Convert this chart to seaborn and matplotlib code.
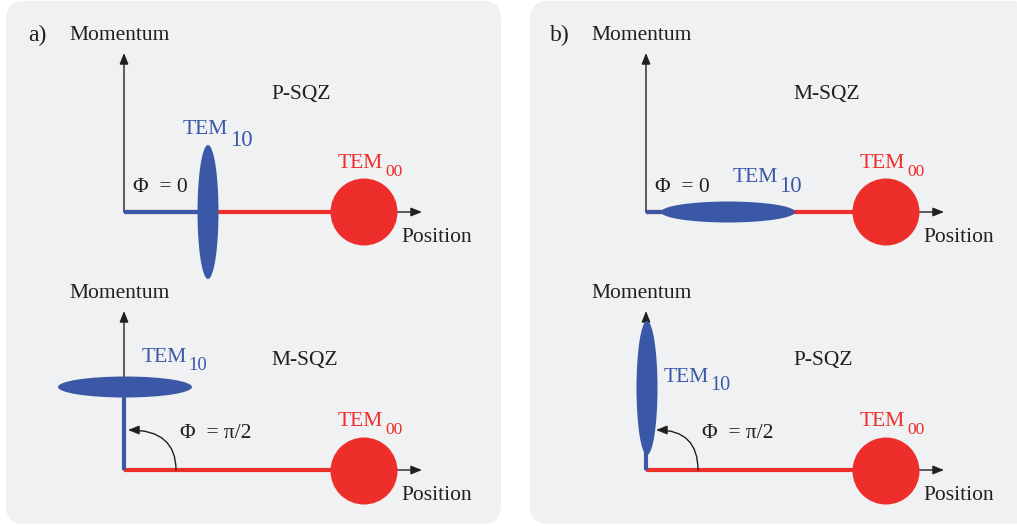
import numpy as np
import pandas as pd
import matplotlib
matplotlib.use("Agg")
import matplotlib.pyplot as plt
from matplotlib.patches import Ellipse, Circle, FancyBboxPatch
import seaborn as sns

# ---- content ----
panel_labels = ["a)", "b)"]
quadrature_labels = [["P-SQZ", "M-SQZ"], ["M-SQZ", "P-SQZ"]]   # [panel][row]
phase_labels = ["\u03a6  = 0", "\u03a6  = \u03c0/2"]            # per row
axis_y_label = "Momentum"
axis_x_label = "Position"
mode_squeezed = ("TEM", "10")
mode_carrier = ("TEM", "00")
# squeezed-ellipse orientation per [panel][row]: "v" = vertical, "h" = horizontal
ellipse_orient = [["v", "h"], ["h", "v"]]

BLUE = "#3a58a6"
RED = "#ee2e2b"
INK = "#231f20"
BG = "#f0f1f3"

sns.set_theme(style="white")
plt.rcParams["font.family"] = ["Liberation Serif", "DejaVu Serif"]
plt.rcParams["mathtext.fontset"] = "stix"

fig = plt.figure(figsize=(10.17, 5.26), dpi=100)
ax = fig.add_axes([0, 0, 1, 1])
ax.set_xlim(0, 1017)
ax.set_ylim(526, 0)
ax.axis("off")

# panel backgrounds
for x0, x1 in [(6, 501), (530, 1030)]:
    ax.add_patch(FancyBboxPatch((x0, 1), x1 - x0, 523,
                                boxstyle="round,pad=0,rounding_size=18",
                                fc=BG, ec="none", zorder=0))

FS = 15.5
ox_list = [124, 646]     # origin x per panel
oy_list = [212, 470]     # origin y per row
L_AX_X = 298
L_AX_Y = 159
CIRC_DX = 240
R_CIRC = 33.5
ELL_LONG, ELL_SHORT = 134, 21


def arrow(x0, y0, x1, y1):
    ax.annotate("", xy=(x1, y1), xytext=(x0, y0),
                arrowprops=dict(arrowstyle="-|>,head_length=0.55,head_width=0.22",
                                color=INK, lw=1.0, shrinkA=0, shrinkB=0),
                zorder=2)


def seg(x, y, color, lw=3.0, z=3):
    df = pd.DataFrame({"x": x, "y": y})
    sns.lineplot(data=df, x="x", y="y", ax=ax, color=color, lw=lw,
                 sort=False, estimator=None, zorder=z, solid_capstyle="butt")


for p in range(2):
    ox = ox_list[p]
    ax.text(ox - 96, 35, panel_labels[p], fontsize=17, color=INK,
            ha="left", va="center")
    for r in range(2):
        oy = oy_list[r]
        # axes
        arrow(ox, oy, ox, oy - L_AX_Y)
        arrow(ox, oy, ox + L_AX_X, oy)
        ax.text(ox - 55, oy - 177, axis_y_label, fontsize=FS, color=INK,
                ha="left", va="center")
        ax.text(ox + 277, oy + 25, axis_x_label, fontsize=FS, color=INK,
                ha="left", va="center")
        # carrier
        cx = ox + CIRC_DX
        seg([ox, cx], [oy, oy], RED)
        ax.add_patch(Circle((cx, oy + (1 if r else 0)), R_CIRC, fc=RED, ec="none", zorder=5))
        ax.text(cx - 26, oy - 49, mode_carrier[0], fontsize=FS, color=RED,
                ha="left", va="center")
        ax.text(cx + 21, oy - 40, mode_carrier[1], fontsize=FS - 3, color=RED,
                ha="left", va="center")
        # squeezed mode
        orient = ellipse_orient[p][r]
        if r == 0:
            ex = ox + (84 if orient == "v" else 82)
            ey = oy
            if orient == "v":
                seg([ox, ex], [oy, oy], BLUE, z=4)
                ax.add_patch(Ellipse((ex, ey), ELL_SHORT, ELL_LONG, fc=BLUE, ec="none", zorder=6))
                ax.text(ox + 59, oy - 82, mode_squeezed[0], fontsize=FS, color=BLUE,
                        ha="left", va="center")
                ax.text(ox + 106, oy - 72, mode_squeezed[1], fontsize=FS + 1, color=BLUE,
                        ha="left", va="center")
            else:
                seg([ox, ex], [oy, oy], BLUE, z=4)
                ax.add_patch(Ellipse((ex, ey), ELL_LONG, ELL_SHORT, fc=BLUE, ec="none", zorder=6))
                ax.text(ox + 87, oy - 34, mode_squeezed[0], fontsize=FS, color=BLUE,
                        ha="left", va="center")
                ax.text(ox + 133, oy - 26, mode_squeezed[1], fontsize=FS + 1, color=BLUE,
                        ha="left", va="center")
            ax.text(ox + 9, oy - 24, phase_labels[0], fontsize=FS, color=INK,
                    ha="left", va="center")
            ax.text(ox + 147, oy - 117, quadrature_labels[p][0], fontsize=FS, color=INK,
                    ha="left", va="center")
        else:
            ex = ox + (1 if orient == "v" else 1)
            ey = oy - 83 if orient == "h" else oy - 82
            seg([ox, ox], [oy, ey], BLUE, z=4)
            if orient == "h":
                ax.add_patch(Ellipse((ex, ey), ELL_LONG, ELL_SHORT, fc=BLUE, ec="none", zorder=6))
                ax.text(ox + 18, oy - 112, mode_squeezed[0], fontsize=FS, color=BLUE,
                        ha="left", va="center")
                ax.text(ox + 64, oy - 104, mode_squeezed[1], fontsize=FS - 2, color=BLUE,
                        ha="left", va="center")
            else:
                ax.add_patch(Ellipse((ex, ey), ELL_SHORT, ELL_LONG, fc=BLUE, ec="none", zorder=6))
                ax.text(ox + 18, oy - 93, mode_squeezed[0], fontsize=FS, color=BLUE,
                        ha="left", va="center")
                ax.text(ox + 64, oy - 85, mode_squeezed[1], fontsize=FS - 1, color=BLUE,
                        ha="left", va="center")
            ax.text(ox + 147, oy - 110, quadrature_labels[p][1], fontsize=FS, color=INK,
                    ha="left", va="center")
            ax.text(ox + 56, oy - 37, phase_labels[1], fontsize=FS, color=INK,
                    ha="left", va="center")
            # phase arc
            ax.annotate("", xy=(ox + 4 + (6 if orient == "v" else 0), oy - 40),
                        xytext=(ox + 52, oy),
                        arrowprops=dict(arrowstyle="-|>,head_length=0.55,head_width=0.22",
                                        color=INK, lw=1.0, shrinkA=0, shrinkB=0,
                                        connectionstyle="angle3,angleA=90,angleB=0"),
                        zorder=7)

fig.savefig("out.png", dpi=100, facecolor="white")
